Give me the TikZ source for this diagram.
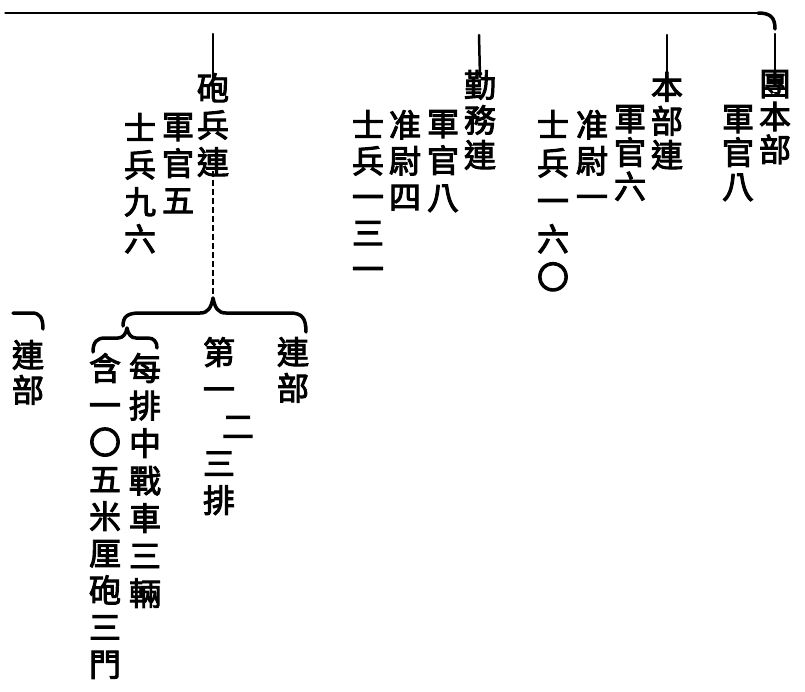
\documentclass[tikz,border=0pt]{standalone}
\usepackage{fontspec}
\newfontfamily\cjk[FakeBold=3]{Noto Sans CJK TC}
\tikzset{
  col/.style={anchor=north, inner sep=0pt, align=center, font=\cjk\fontsize{32}{#1}\selectfont},
  col/.default=36,
  rule/.style={line width=1.3pt, line cap=round},
  tick/.style={line width=2.5pt, line cap=round},
  bracepath/.style={line width=3.5pt, line cap=round, line join=round},
  dashline/.style={line width=1.5pt, dash pattern=on 6pt off 3pt}
}
\begin{document}
\begin{tikzpicture}[x=1pt,y=-1pt]
\useasboundingbox (0,0) rectangle (805,691);
% columns
\node[col=33] (tuan) at (775,70) {團\\本\\部};
\node[col=34] (tuanA) at (738,105) {軍\\官\\八};
\node[col=34] (benbu) at (667,72) {本\\部\\連};
\node[col=34] (bbA) at (630,105) {軍\\官\\六};
\node[col=36] (bbB) at (592,110) {准\\尉\\一};
\node[col=38] (bbC) at (553,110) {士\\兵\\一\\六\\〇};
\node[col=35] (qin) at (480,70) {勤\\務\\連};
\node[col=37] (qinA) at (443,110) {軍\\官\\八};
\node[col=36] (qinB) at (405,110) {准\\尉\\四};
\node[col=36] (qinC) at (368,110) {士\\兵\\一\\三\\一};
\node[col=37] (pao) at (213,73) {砲\\兵\\連};
\node[col=37] (paoA) at (178,113) {軍\\官\\五};
\node[col=37] (paoB) at (140,113) {士\\兵\\九\\六};
\node[col=36] (lianbu) at (293,337) {連\\部};
\node[col=37] (pai) at (219,337) {第\\一\\\hspace*{38pt}二\\三\hspace*{36pt}\\排};
\node[col=37.5] (mei) at (145,353) {每\\排\\中\\戰\\車\\三\\輛};
\node[col=37] (han) at (105,353) {含\\一\\〇\\五\\米\\厘\\砲\\三\\門};
\node[col=35] (lianbuL) at (28,340) {連\\部};
% top rule
\coordinate (L0) at (5,13);
\coordinate (L1) at (758,13);
\coordinate (tT) at (775,34);
\coordinate (tB) at (667,35);
\coordinate (tQ) at (479,35);
\coordinate (tP) at (213,34);
\draw[rule] (L0) -- (L1);
\draw[bracepath] (L1) .. controls (770,13) and (775,17) .. (775,29);
\draw[tick] (tT) -- ([yshift=-10pt]tuan.north);
\draw[tick] (tB) -- ([yshift=-7pt]benbu.north);
\draw[tick] (tQ) -- ([yshift=-7pt]qin.north);
\draw[tick] (tP) -- ([yshift=-7pt]pao.north);
% dashed link from artillery company down to brace
\coordinate (peak) at (213,298);
\draw[dashline] ([yshift=6pt]pao.south) -- (peak);
% big brace
\coordinate (bL) at (123,326);
\coordinate (bR) at (306,332);
\draw[bracepath] (bL) .. controls (123,316) and (128,313) .. (140,313) -- (200,313)
  .. controls (208,313) and (211,308) .. (peak)
  .. controls (215,308) and (218,313) .. (226,313) -- (290,313)
  .. controls (302,313) and (306,318) .. (bR);
% small brace
\coordinate (sL) at (93,352);
\coordinate (sR) at (157,348);
\coordinate (speak) at (127,328);
\draw[bracepath] (sL) .. controls (93,342) and (97,338) .. (105,338) -- (118,338)
  .. controls (123,338) and (126,334) .. (speak)
  .. controls (128,334) and (131,338) .. (136,338) -- (148,338)
  .. controls (154,338) and (157,342) .. (sR);
% left hook
\coordinate (hL) at (13,313);
\draw[bracepath] (hL) -- (32,313) .. controls (40,313) and (43,318) .. (43,329);
\end{tikzpicture}
\end{document}
